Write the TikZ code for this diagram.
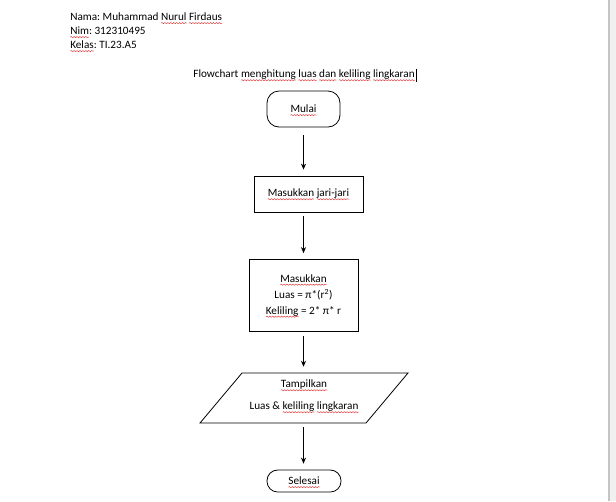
\documentclass[tikz,border=0pt]{standalone}
\usepackage{fontspec}
\setmainfont{Carlito}
\frenchspacing
\usetikzlibrary{arrows.meta,decorations.pathmorphing,calc}
\definecolor{squig}{HTML}{E03A3A}
\definecolor{edge}{HTML}{C4C4C4}
\definecolor{side}{HTML}{F0F0F0}
\newcommand\sq[1]{\tikz[baseline=(w.base),sharp corners]{\node[inner sep=0pt,outer sep=0pt,draw=none,minimum width=0pt,minimum height=0pt](w){#1};\draw[overlay,sharp corners,squig,line width=0.35pt,decorate,decoration={snake,amplitude=0.45pt,segment length=2.2pt}]([yshift=-1.7pt]w.base west)--([yshift=-1.7pt]w.base east);}}
\tikzset{
  txt/.style={font=\fontsize{8.4}{10.5}\selectfont, inner sep=0pt},
  term/.style={draw, line width=0.6pt, rounded corners=9pt, font=\fontsize{8.4}{10.5}\selectfont, align=center, inner sep=0pt},
  proc/.style={draw, line width=0.6pt, font=\fontsize{8.4}{10.5}\selectfont, align=center, inner sep=0pt},
  flow/.style={line width=0.6pt, -{Stealth[length=4.5pt,width=3.8pt]}, shorten <=3pt, shorten >=4.5pt}
}
\begin{document}
\begin{tikzpicture}[x=0.75pt,y=-0.75pt]
\useasboundingbox (0,0) rectangle (616,501);
\fill[white] (0,0) rectangle (616,501);
\fill[side] (609,0) rectangle (616,501);
\draw[edge,line width=0.8pt] (609,0) -- (609,501);
% header
\node[txt,anchor=west] (nama) at (70,17) {Nama: Muhammad \sq{Nurul} \sq{Firdaus}};
\node[txt,anchor=west] (nim) at (70,31) {\sq{Nim}: 312310495};
\node[txt,anchor=west] (kelas) at (70,45) {\sq{Kelas}: TI.23.A5};
\node[txt] (title) at (304,75) {Flowchart \sq{menghitung} \sq{luas} \sq{dan} \sq{keliling} \sq{lingkaran}};
\draw[line width=0.5pt] ($(title.east)+(1,-6.5)$) -- ($(title.east)+(1,6.5)$);
% flowchart
\node[term,minimum width=54.75pt,minimum height=27pt] (mulai) at (303.5,109) {\sq{Mulai}};
\node[proc,minimum width=81.75pt,minimum height=27pt] (input) at (308.5,194) {\sq{Masukkan} \sq{jari-jari}};
\node[proc,minimum width=81.75pt,minimum height=54pt] (calc) at (303.5,295.5) {\sq{Masukkan}\\[1.5pt] Luas = π*(r\textsuperscript{2})\\[1.5pt] \sq{Keliling} = 2* π* r};
\coordinate (p1) at (242,373);
\coordinate (p2) at (408,373);
\coordinate (p3) at (366,423);
\coordinate (p4) at (200,423);
\draw[line width=0.6pt] (p1) -- (p2) -- (p3) -- (p4) -- cycle;
\node[inner sep=0pt,minimum width=120pt,minimum height=37.5pt] (out) at (304,398) {};
\node[txt] (tamp) at (304,385) {\sq{Tampilkan}};
\node[txt] (luas) at (304,407) {Luas \& \sq{keliling} \sq{lingkaran}};
\node[term,rounded corners=8pt,minimum width=55.5pt,minimum height=16.5pt] (selesai) at (304,481) {\sq{Selesai}};
% connectors
\draw[flow,shorten <=6pt] (mulai.south) -- (mulai.south |- input.north);
\draw[flow] (mulai.south |- input.south) -- (mulai.south |- calc.north);
\draw[flow] (mulai.south |- calc.south) -- (mulai.south |- out.north);
\draw[flow] (mulai.south |- out.south) -- (mulai.south |- selesai.north);
\end{tikzpicture}
\end{document}
